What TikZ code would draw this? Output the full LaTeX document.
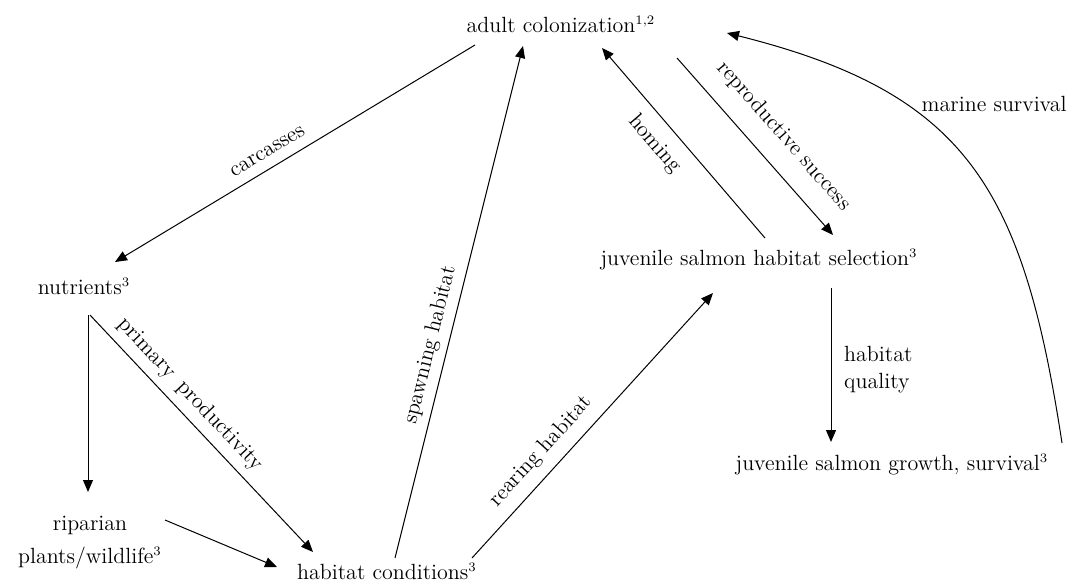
\documentclass[tikz,border=0pt]{standalone}
\usetikzlibrary{arrows.meta,calc,positioning}
\newcommand{\supnote}[1]{\textsuperscript{\fontsize{6.5}{7}\selectfont #1}}
\begin{document}
\begin{tikzpicture}[x=0.5pt, y=-0.5pt, >={Triangle[length=6pt,width=5pt]}, line width=0.5pt,
    every node/.style={font=\fontsize{11}{13.5}\selectfont},
    lbl/.style={sloped, inner sep=1pt}]
    \useasboundingbox (0,0) rectangle (1082,584);
    % boxes, placed at their baselines
    \node [anchor=base] (adult)  at (561,32)  {adult colonization\supnote{1,2}};
    \node [anchor=base] (nutr)   at (84,294)  {nutrients\supnote{3}};
    \node [align=center] (ripar) at (90,543)  {riparian\\[3pt]plants/wildlife\supnote{3}};
    \node [anchor=base] (hab)    at (387,579) {habitat conditions\supnote{3}};
    \node [anchor=base] (juvsel) at (759,265) {juvenile salmon habitat selection\supnote{3}};
    \node [anchor=base] (juvgro) at (892,470) {juvenile salmon growth, survival\supnote{3}};
    % links
    \draw [->] ($(adult.base)+(-86,13)$) -- node [lbl, pos=0.553, above=4.2pt] {carcasses} ($(nutr.base)+(31,-32)$);
    \draw [->] ($(nutr.base)+(4,21)$) -- ($(ripar.center)+(-2,-51)$);
    \draw [->] ($(nutr.base)+(6,21)$) -- node [lbl, pos=0.39, above=3.1pt] {primary\enspace productivity} ($(hab.base)+(-74,-27)$);
    \draw [->] ($(ripar.center)+(75,-23)$) -- ($(hab.base)+(-110,-12)$);
    \draw [->] ($(hab.base)+(8,-21)$) -- node [lbl, pos=0.408, above=2.5pt] {spawning habitat} ($(adult.base)+(-38,14)$);
    \draw [->] ($(hab.base)+(85,-21)$) -- node [lbl, pos=0.35, above=4.1pt] {rearing habitat} ($(juvsel.base)+(-46,28)$);
    \draw [->] ($(juvsel.base)+(6,-27)$) -- node [lbl, pos=0.571, below=5.1pt] {homing} ($(adult.base)+(41,16)$);
    \draw [->] ($(adult.base)+(116,26)$) -- node [lbl, pos=0.548, above=8.1pt] {reproductive success} ($(juvsel.base)+(74,-30)$);
    \draw [->] ($(juvsel.base)+(72,23)$) -- node [right=3pt, yshift=-2.5pt, align=left] {habitat\\quality} ($(juvgro.base)+(-61,-28)$);
    \draw [->] ($(juvgro.base)+(170,-27)$) .. controls (1023,188) and (967,93) .. node [pos=0.66, anchor=base west] {marine survival} ($(adult.base)+(166,1)$);
\end{tikzpicture}
\end{document}
